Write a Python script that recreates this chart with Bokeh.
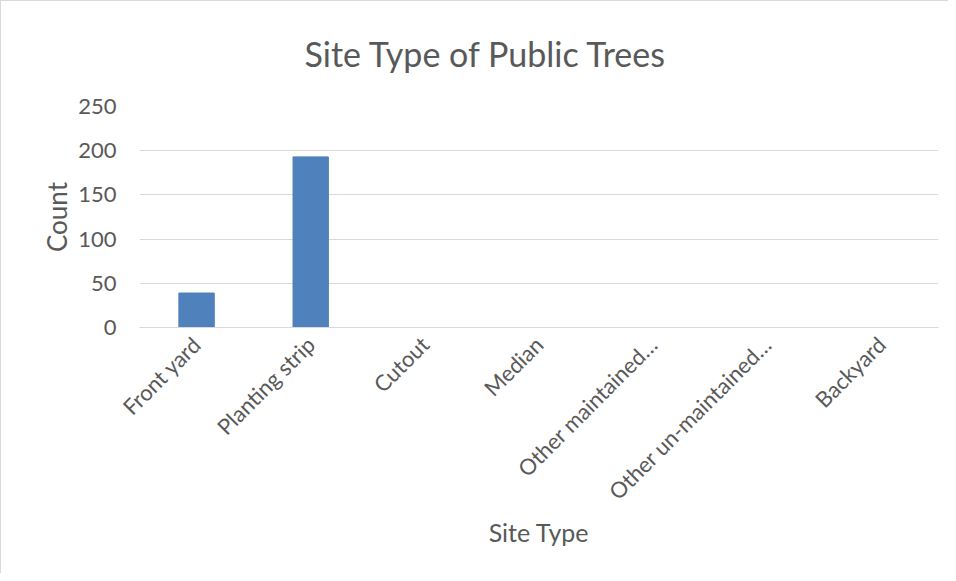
from bokeh.plotting import figure
from bokeh.embed import file_html
from bokeh.resources import INLINE
from bokeh.models import Range1d, FixedTicker
import math

categories = ["Front yard", "Planting strip", "Cutout", "Median",
              "Other maintained…", "Other un-maintained…", "Backyard"]
counts = [39, 193, 0, 0, 0, 0, 0]
y_ticks = [0, 50, 100, 150, 200, 250]

FONT = "Lato"
p = figure(x_range=categories, y_range=Range1d(0, 250), width=948, height=573,
           output_backend="svg", toolbar_location=None,
           min_border_left=138, min_border_right=11, min_border_top=100, min_border_bottom=247,
           title="Site Type of Public Trees",
           styles={"border-left": "1px solid #d9d9d9", "border-top": "1px solid #d9d9d9",
                   "border-right": "0px none", "border-bottom": "0px none"})

p.vbar(x=categories, top=counts, width=0.31, color="#4f81bd", line_color="#4f81bd")

p.title.align = "left"
p.title.offset = 165
p.title.text_font = FONT
p.title.text_font_size = "34px"
p.title.text_font_style = "normal"
p.title.text_color = "#595959"
p.title.text_line_height = 0.9
p.title.vertical_align = "top"
p.title.standoff = 62

p.outline_line_color = None
p.xgrid.grid_line_color = None
p.ygrid.grid_line_color = "#d9d9d9"
p.ygrid.grid_line_width = 1

p.yaxis.ticker = FixedTicker(ticks=y_ticks)
p.yaxis.axis_line_color = None
p.yaxis.major_tick_line_color = None
p.yaxis.minor_tick_line_color = None
p.yaxis.major_label_text_font = FONT
p.yaxis.major_label_text_font_size = "22px"
p.yaxis.major_label_text_color = "#595959"
p.yaxis.major_label_standoff = 17
p.yaxis.axis_label = "Count"
p.yaxis.axis_label_text_font = FONT
p.yaxis.axis_label_text_font_size = "26px"
p.yaxis.axis_label_text_font_style = "normal"
p.yaxis.axis_label_text_color = "#595959"
p.yaxis.axis_label_standoff = 2

p.xaxis.axis_line_color = "#d9d9d9"
p.xaxis.major_tick_line_color = None
p.xaxis.minor_tick_line_color = None
p.xaxis.major_label_orientation = math.pi / 4
p.xaxis.major_label_text_font = FONT
p.xaxis.major_label_text_font_size = "22px"
p.xaxis.major_label_text_color = "#595959"
p.xaxis.major_label_standoff = 7
p.xaxis.axis_label = "Site Type"
p.xaxis.axis_label_text_font = FONT
p.xaxis.axis_label_text_font_size = "25px"
p.xaxis.axis_label_text_font_style = "normal"
p.xaxis.axis_label_text_color = "#595959"
p.xaxis.axis_label_standoff = 0

open("out.html", "w").write(file_html(p, INLINE))
